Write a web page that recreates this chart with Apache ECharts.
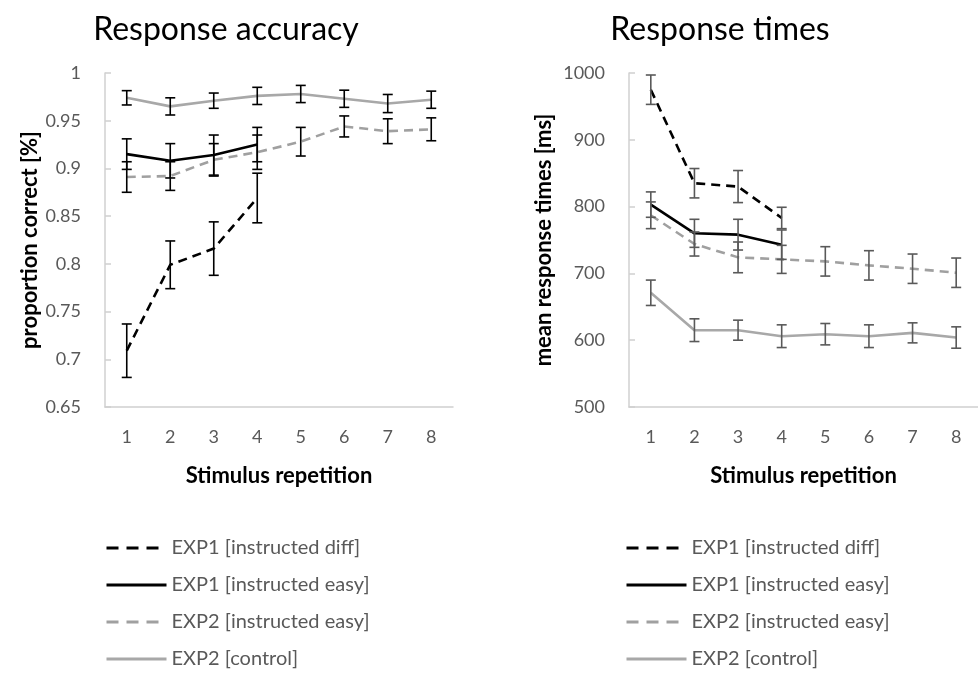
<!DOCTYPE html>
<html>
<head>
<meta charset="utf-8">
<title>Response accuracy / Response times</title>
<script src="https://cdn.jsdelivr.net/npm/echarts@6/dist/echarts.min.js"></script>
</head>
<body style="margin:0">
	<div id="main" style="width: 978px; height: 677px;"></div>

	<script type="text/javascript">
		// categories (stimulus repetition)
		var reps = ['1', '2', '3', '4', '5', '6', '7', '8'];
		var seriesNames = ['EXP1 [instructed diff]', 'EXP1 [instructed easy]', 'EXP2 [instructed easy]', 'EXP2 [control]'];

		// proportion correct, mean and error
		var accDiff1 = [0.709, 0.799, 0.816, 0.869];
		var accDiff1Err = [0.028, 0.025, 0.028, 0.026];
		var accEasy1 = [0.915, 0.908, 0.914, 0.925];
		var accEasy1Err = [0.016, 0.018, 0.021, 0.018];
		var accEasy2 = [0.891, 0.892, 0.909, 0.917, 0.928, 0.944, 0.939, 0.941];
		var accEasy2Err = [0.016, 0.015, 0.017, 0.018, 0.015, 0.011, 0.013, 0.012];
		var accCtrl2 = [0.974, 0.965, 0.971, 0.976, 0.978, 0.973, 0.968, 0.972];
		var accCtrl2Err = [0.0075, 0.009, 0.008, 0.009, 0.009, 0.009, 0.0095, 0.009];

		// mean response times [ms], mean and error
		var rtDiff1 = [975, 835, 830, 783];
		var rtDiff1Err = [22, 22, 24, 16];
		var rtEasy1 = [803, 760, 758, 743];
		var rtEasy1Err = [19, 21, 23, 22];
		var rtEasy2 = [787, 744, 724, 721, 718, 712, 707, 701];
		var rtEasy2Err = [20, 18, 23, 21, 22, 22, 22, 22];
		var rtCtrl2 = [671, 615, 615, 606, 609, 606, 611, 604];
		var rtCtrl2Err = [19, 17, 15, 17, 16, 17, 15, 16];

		var accTicks = { min: 0.65, max: 1, interval: 0.05 };
		var rtTicks = { min: 500, max: 1000, interval: 100 };

		var FONT = 'Lato';
		var styles = [
			{ color: '#000000', type: [9, 6] },
			{ color: '#000000', type: 'solid' },
			{ color: '#a0a0a0', type: [9, 6] },
			{ color: '#a8a8a8', type: 'solid' }
		];

		var myChart = echarts.init(document.getElementById('main'));

		function lineSeries(idx, gridIdx, values) {
			return {
				name: seriesNames[idx],
				type: 'line',
				xAxisIndex: gridIdx,
				yAxisIndex: gridIdx,
				symbol: 'none',
				smooth: false,
				lineStyle: { color: styles[idx].color, width: 2.6, type: styles[idx].type },
				itemStyle: { color: styles[idx].color },
				data: values,
				z: 2
			};
		}

		function errorSeries(gridIdx, values, errs, color) {
			var d = [];
			for (var i = 0; i < values.length; i++) {
				d.push([i, values[i] - errs[i], values[i] + errs[i]]);
			}
			return {
				type: 'custom',
				xAxisIndex: gridIdx,
				yAxisIndex: gridIdx,
				silent: true,
				z: 3,
				renderItem: function (params, api) {
					var lo = api.coord([api.value(0), api.value(1)]);
					var hi = api.coord([api.value(0), api.value(2)]);
					var w = 5;
					var st = { stroke: color, lineWidth: 1.6 };
					return {
						type: 'group',
						children: [
							{ type: 'line', shape: { x1: lo[0], y1: lo[1], x2: hi[0], y2: hi[1] }, style: st },
							{ type: 'line', shape: { x1: lo[0] - w, y1: lo[1], x2: lo[0] + w, y2: lo[1] }, style: st },
							{ type: 'line', shape: { x1: hi[0] - w, y1: hi[1], x2: hi[0] + w, y2: hi[1] }, style: st }
						]
					};
				},
				encode: { x: 0, y: [1, 2] },
				data: d
			};
		}

		function xAxisOpt(gridIdx) {
			return {
				type: 'category',
				gridIndex: gridIdx,
				data: reps,
				boundaryGap: true,
				axisLine: { lineStyle: { color: '#d0d0d0', width: 1.5 } },
				axisTick: { show: false },
				axisLabel: { color: '#595959', fontSize: 18, fontFamily: FONT, margin: 21 },
				name: 'Stimulus repetition',
				nameLocation: 'middle',
				nameGap: 58,
				nameTextStyle: { color: '#000', fontSize: 22, fontWeight: 'bold', fontFamily: FONT }
			};
		}

		function yAxisOpt(gridIdx, ticks, name, gap) {
			return {
				type: 'value',
				gridIndex: gridIdx,
				min: ticks.min,
				max: ticks.max,
				interval: ticks.interval,
				splitLine: { show: false },
				axisLine: { show: true, lineStyle: { color: '#d0d0d0', width: 1.5 } },
				axisTick: { show: true, inside: true, length: 6, lineStyle: { color: '#d0d0d0', width: 1.5 } },
				axisLabel: {
					color: '#595959', fontSize: 18, fontFamily: FONT, margin: 24,
					formatter: function (v) { return String(+v.toFixed(2)); }
				},
				name: name,
				nameLocation: 'middle',
				nameRotate: 90,
				nameGap: gap,
				nameTextStyle: { color: '#000', fontSize: 22, fontWeight: 'bold', fontFamily: FONT }
			};
		}

		function legendOpt(left) {
			var items = [];
			for (var i = 0; i < seriesNames.length; i++) {
				var it = { name: seriesNames[i] };
				if (styles[i].type !== 'solid') {
					it.lineStyle = { type: [12, 8] };
				}
				items.push(it);
			}
			return {
				orient: 'vertical',
				left: left,
				top: 533,
				height: 140,
				itemWidth: 60,
				itemHeight: 20,
				itemGap: 17,
				itemTextGap: 9,
				data: items,
				itemStyle: { opacity: 0 },
				lineStyle: { width: 3 },
				textStyle: { color: '#595959', fontSize: 20, fontFamily: FONT },
				selectedMode: false
			};
		}

		var option = {
			animation: false,
			backgroundColor: '#ffffff',
			graphic: [
				{
					type: 'text', x: 226, y: 14,
					style: { text: 'Response accuracy', fill: '#000', font: '32px ' + FONT, textAlign: 'center' }
				},
				{
					type: 'text', x: 720, y: 14,
					style: { text: 'Response times', fill: '#000', font: '32px ' + FONT, textAlign: 'center' }
				}
			],
			grid: [
				{ left: 105, top: 73, width: 348, height: 334 },
				{ left: 629, top: 73, width: 360, height: 334 }
			],
			xAxis: [xAxisOpt(0), xAxisOpt(1)],
			yAxis: [
				yAxisOpt(0, accTicks, 'proportion correct [%]', 64),
				yAxisOpt(1, rtTicks, 'mean response times [ms]', 74)
			],
			legend: [legendOpt(100), legendOpt(620)],
			series: [
				lineSeries(0, 0, accDiff1),
				lineSeries(1, 0, accEasy1),
				lineSeries(2, 0, accEasy2),
				lineSeries(3, 0, accCtrl2),
				errorSeries(0, accDiff1, accDiff1Err, '#000000'),
				errorSeries(0, accEasy1, accEasy1Err, '#000000'),
				errorSeries(0, accEasy2, accEasy2Err, '#000000'),
				errorSeries(0, accCtrl2, accCtrl2Err, '#000000'),
				lineSeries(0, 1, rtDiff1),
				lineSeries(1, 1, rtEasy1),
				lineSeries(2, 1, rtEasy2),
				lineSeries(3, 1, rtCtrl2),
				errorSeries(1, rtDiff1, rtDiff1Err, '#595959'),
				errorSeries(1, rtEasy1, rtEasy1Err, '#595959'),
				errorSeries(1, rtEasy2, rtEasy2Err, '#595959'),
				errorSeries(1, rtCtrl2, rtCtrl2Err, '#595959')
			]
		};

		myChart.setOption(option);
	</script>
</body>
</html>
